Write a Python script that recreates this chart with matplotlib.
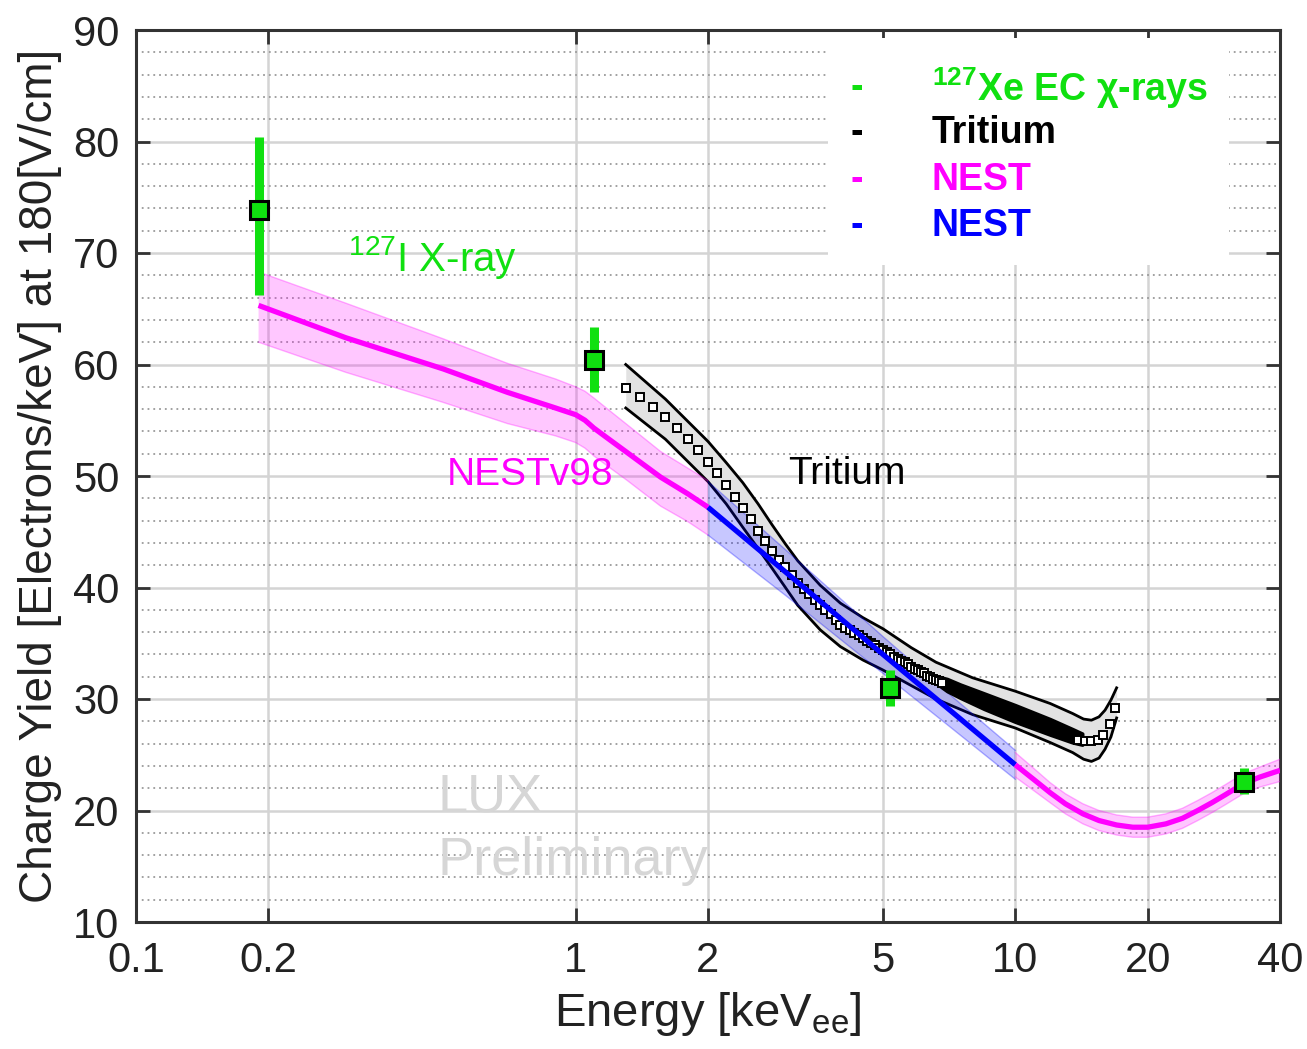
import matplotlib
matplotlib.use('Agg')
import matplotlib.pyplot as plt
from matplotlib.ticker import FixedLocator, FixedFormatter, MultipleLocator, NullLocator
from matplotlib.patches import Rectangle

plt.rcParams['font.family'] = ['Liberation Sans', 'DejaVu Sans']
plt.rcParams['mathtext.fontset'] = 'custom'
plt.rcParams['mathtext.rm'] = 'Liberation Sans'
plt.rcParams['mathtext.it'] = 'Liberation Sans:italic'
plt.rcParams['mathtext.bf'] = 'Liberation Sans:bold'

# ---------------- data ----------------
xticks = [0.1, 0.2, 1, 2, 5, 10, 20, 40]
xticklabels = ['0.1', '0.2', '1', '2', '5', '10', '20', '40']
yticks = [10, 20, 30, 40, 50, 60, 70, 80, 90]

# 127Xe EC x-ray points
xe_E = [0.19, 1.10, 5.19, 33.1]
xe_Y = [73.9, 60.4, 31.0, 22.6]
xe_lo = [66.2, 57.5, 29.4, 21.5]
xe_hi = [80.4, 63.4, 32.6, 23.8]

# NEST v98 (magenta, low energy part)
nestA_E = [0.19, 0.3, 0.5, 0.7, 0.9, 1.0, 1.05, 1.1, 1.2, 1.31, 1.56, 1.8, 2.0]
nestA_Y = [65.3, 62.4, 59.6, 57.5, 56.1, 55.5, 55.0, 54.3, 53.2, 52.1, 49.9, 48.4, 47.2]
nestA_hi = [68.3, 65.5, 62.3, 60.1, 58.7, 58.0, 57.6, 57.0, 55.8, 54.6, 52.2, 50.7, 49.6]
nestA_lo = [62.0, 59.3, 56.6, 54.7, 53.6, 53.0, 52.5, 51.8, 50.7, 49.6, 47.3, 45.9, 44.7]

# NEST (blue, 2-10 keV)
nestB_E = [2.0, 3.0, 5.0, 7.0, 10.0]
nestB_Y = [47.2, 41.4, 34.0, 29.2, 24.1]
nestB_hi = [49.5, 43.4, 35.6, 30.6, 25.4]
nestB_lo = [44.7, 39.3, 32.3, 27.7, 22.8]

# NEST (magenta, high energy part)
nestC_E = [10.0, 11.0, 12.0, 13.0, 14.25, 15.5, 17.0, 18.5, 20.0, 22.0, 24.0, 26.0, 28.0, 30.0, 33.0, 36.0, 40.0]
nestC_Y = [24.1, 22.8, 21.6, 20.6, 19.7, 19.1, 18.7, 18.5, 18.5, 18.8, 19.3, 20.0, 20.7, 21.4, 22.4, 23.0, 23.6]
nestC_hi = [25.2, 23.8, 22.5, 21.5, 20.6, 20.0, 19.6, 19.4, 19.4, 19.7, 20.2, 20.9, 21.6, 22.3, 23.3, 23.9, 24.6]
nestC_lo = [23.0, 21.8, 20.7, 19.7, 18.8, 18.2, 17.8, 17.6, 17.6, 17.9, 18.4, 19.1, 19.8, 20.5, 21.5, 22.1, 22.6]

# Tritium data points (open squares)
trit_E = [1.3, 1.4, 1.5, 1.6, 1.7, 1.8, 1.9, 2.0, 2.1, 2.2,
          2.3, 2.4, 2.5, 2.6, 2.7, 2.8, 2.9, 3.0, 3.1, 3.2,
          3.3, 3.4, 3.5, 3.6, 3.7, 3.8, 3.9, 4.0, 4.1, 4.2,
          4.3, 4.4, 4.5, 4.6, 4.7, 4.8, 4.9, 5.0, 5.1, 5.2,
          5.3, 5.4, 5.5, 5.6, 5.7, 5.8, 5.9, 6.0, 6.1, 6.2,
          6.3, 6.4, 6.5, 6.6, 6.7, 6.8,
          13.9, 14.4, 14.9, 15.4, 15.8, 16.4, 16.85]
trit_Y = [57.9, 57.1, 56.2, 55.3, 54.3, 53.3, 52.3, 51.3, 50.3, 49.2,
          48.1, 47.1, 46.1, 45.1, 44.2, 43.3, 42.5, 41.8, 41.1, 40.4,
          39.9, 39.4, 38.9, 38.4, 38.0, 37.6, 37.1, 36.6, 36.4, 36.2,
          35.9, 35.7, 35.5, 35.2, 35.0, 34.8, 34.6, 34.4, 34.2, 34.0,
          33.8, 33.6, 33.4, 33.3, 33.1, 32.9, 32.7, 32.6, 32.4, 32.3,
          32.1, 32.0, 31.8, 31.7, 31.6, 31.4,
          26.3, 26.2, 26.2, 26.3, 26.8, 27.8, 29.2]

# Tritium dense-point region (merged markers)
blob_E = [6.4, 7.0, 7.5, 8.5, 10.0, 12.0, 13.5, 14.2]
blob_hi = [32.2, 31.8, 31.3, 30.5, 29.45, 28.2, 27.3, 26.9]
blob_lo = [31.8, 30.7, 30.1, 29.1, 27.95, 26.8, 26.1, 25.9]

# Tritium systematic band
tband_E = [1.3, 1.6, 2.0, 2.2, 2.4, 2.6, 2.8, 3.0, 3.2, 3.6, 4.0, 4.5, 5.0, 5.8, 6.6, 8.0, 10.0, 12.0,
           13.5, 14.3, 14.9, 15.5, 16.0, 16.5, 17.0]
tband_hi = [60.0, 56.9, 53.1, 51.2, 49.4, 47.5, 45.6, 43.9, 42.4, 40.2, 38.6, 37.3, 36.3, 34.6, 33.3,
            31.9, 30.7, 29.6, 28.7, 28.2, 28.1, 28.4, 29.0, 29.9, 31.0]
tband_lo = [56.1, 53.3, 49.5, 47.5, 45.4, 43.5, 41.7, 40.0, 38.4, 36.2, 34.7, 33.5, 32.6, 31.2, 30.0,
            28.6, 27.4, 26.1, 25.2, 24.6, 24.4, 24.7, 25.5, 26.6, 28.3]

# ---------------- figure ----------------
GREEN = '#10e010'
MAG = '#ff00ff'
BLUE = '#0000ff'

fig = plt.figure(figsize=(13.07, 10.49), dpi=100)
ax = fig.add_axes([136/1307, (1049-922)/1049, 1144/1307, 892/1049])
ax.set_xscale('log')
ax.set_xlim(0.1, 40)
ax.set_ylim(10, 90)

# grid
ax.set_axisbelow(True)
ax.xaxis.set_major_locator(FixedLocator(xticks))
ax.xaxis.set_major_formatter(FixedFormatter(xticklabels))
ax.xaxis.set_minor_locator(NullLocator())
ax.yaxis.set_major_locator(FixedLocator(yticks))
ax.yaxis.set_minor_locator(MultipleLocator(2))
ax.grid(True, which='major', color='#d4d4d4', lw=1.8)
ax.grid(True, which='minor', axis='y', color='#9a9a9a', lw=1.3, ls=(0, (1, 2.2)))

ax.tick_params(which='major', direction='in', length=10, width=2, top=True, right=True,
               labelsize=30, color='#333333', labelcolor='#222222')
ax.tick_params(axis='x', which='major', pad=14)
ax.tick_params(axis='y', which='major', pad=12)
ax.tick_params(which='minor', length=0)
for s in ax.spines.values():
    s.set_linewidth(2.2)
    s.set_color('#333333')

# legend background box
ax.add_patch(Rectangle((0.605, 0.737), 0.35, 0.254, transform=ax.transAxes,
                       facecolor='white', edgecolor='none', zorder=1.5))

# tritium band
ax.fill_between(tband_E, tband_lo, tband_hi, color='#e2e2e2', lw=0, zorder=2)
ax.plot(tband_E, tband_hi, color='black', lw=2.0, zorder=2.1)
ax.plot(tband_E, tband_lo, color='black', lw=2.0, zorder=2.1)

# NEST bands
for E, lo, hi, c in [(nestA_E, nestA_lo, nestA_hi, MAG), (nestB_E, nestB_lo, nestB_hi, BLUE),
                     (nestC_E, nestC_lo, nestC_hi, MAG)]:
    ax.fill_between(E, lo, hi, facecolor=c, alpha=0.22, zorder=3, lw=0)
    ax.plot(E, hi, color=c, alpha=0.3, lw=1.0, zorder=3)
    ax.plot(E, lo, color=c, alpha=0.3, lw=1.0, zorder=3)

# tritium points
ax.fill_between(blob_E, blob_lo, blob_hi, color='black', lw=2.5, edgecolor='black', zorder=4)
ax.plot(trit_E, trit_Y, ls='none', marker='s', ms=6.0, mfc='white', mec='black', mew=1.4, zorder=4.2)

# NEST lines
ax.plot(nestA_E, nestA_Y, color=MAG, lw=3.8, zorder=5, solid_capstyle='butt')
ax.plot(nestB_E, nestB_Y, color=BLUE, lw=3.8, zorder=5, solid_capstyle='butt')
ax.plot(nestC_E, nestC_Y, color=MAG, lw=3.8, zorder=5, solid_capstyle='butt')

# 127Xe points
ax.vlines(xe_E, xe_lo, xe_hi, color=GREEN, lw=6.5, zorder=6)
ax.plot(xe_E, xe_Y, ls='none', marker='s', ms=12.5, mfc=GREEN, mec='black', mew=2.2, zorder=7)

# annotations
ax.text(0.303, 68.4, r'$^{127}$I X-ray', color=GREEN, fontsize=29, zorder=8)
ax.text(0.787, 50.1, 'NESTv98', color=MAG, fontsize=28, ha='center', va='center', zorder=8)
ax.text(4.14, 50.2, 'Tritium', color='black', fontsize=28, ha='center', va='center', zorder=8)
ax.text(0.484, 19.87, 'LUX', color='#d6d6d6', fontsize=39, ha='left', va='baseline', zorder=8)
ax.text(0.484, 14.2, 'Preliminary', color='#d6d6d6', fontsize=39, ha='left', va='baseline', zorder=8)

# legend (manual)
leg_rows = [(0.935, GREEN, r'$^{\mathbf{127}}$Xe EC χ-rays'),
            (0.8845, 'black', 'Tritium'),
            (0.8318, MAG, 'NEST'),
            (0.7803, BLUE, 'NEST')]
for yf, c, lab in leg_rows:
    ax.text(0.630, yf, '-', color=c, fontsize=27, fontweight='bold', transform=ax.transAxes,
            ha='center', va='center', zorder=9)
    ax.text(0.6958, yf, lab, color=c, fontsize=27, fontweight='bold', transform=ax.transAxes,
            ha='left', va='center', zorder=9)

# axis labels
ax.set_xlabel(r'Energy [keV$_{\rm ee}$]', fontsize=34, labelpad=6, color='#222222')
ax.set_ylabel('Charge Yield [Electrons/keV] at 180[V/cm]', fontsize=33, labelpad=8, color='#222222')

fig.savefig('out.png', dpi=100)
